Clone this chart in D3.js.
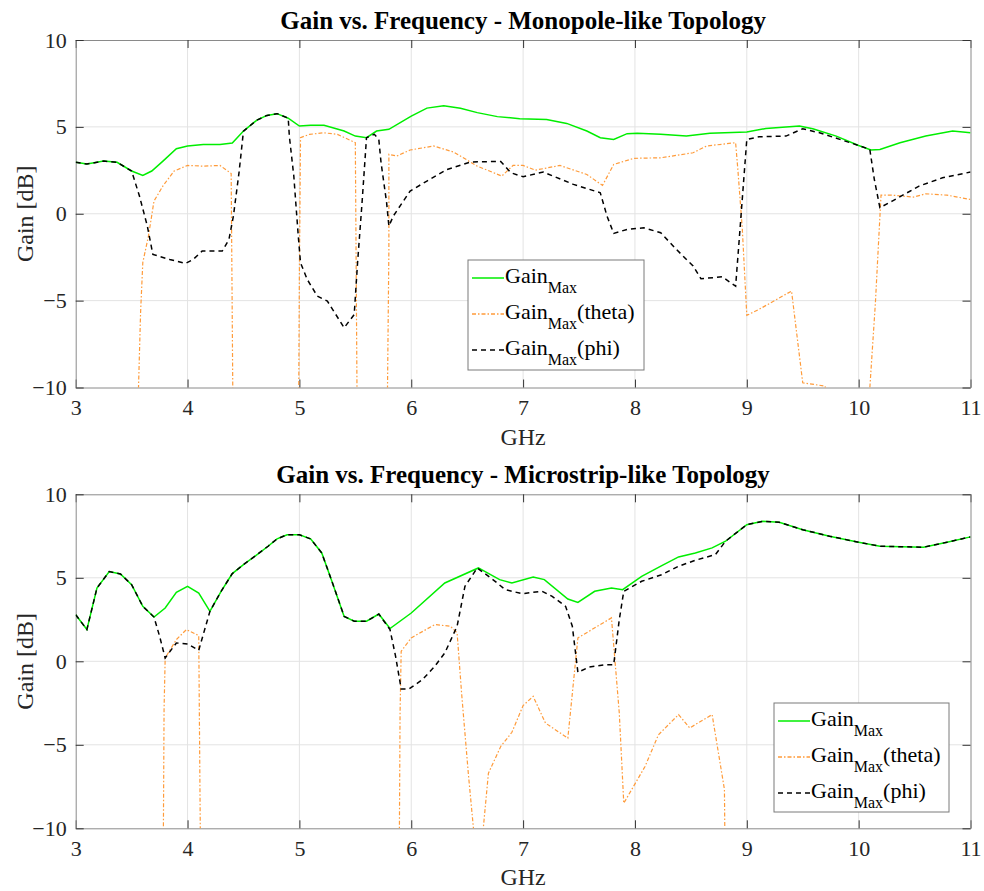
<!DOCTYPE html>
<html>
<head>
<meta charset="utf-8">
<script src="https://cdn.jsdelivr.net/npm/d3@7"></script>
<style>
  html, body { margin: 0; padding: 0; background: #fff; }
  svg { display: block; }
  text { font-family: "Liberation Serif", "Times New Roman", Times, "DejaVu Serif", serif; }
</style>
</head>
<body>
<svg id="chart" width="984" height="891"></svg>
<script>
// ---------- Data (frequency GHz, gain dB) ----------
const xTicks = [3, 4, 5, 6, 7, 8, 9, 10, 11];
const yTicks = [-10, -5, 0, 5, 10];

const topTitle = "Gain vs. Frequency - Monopole-like Topology";
const bottomTitle = "Gain vs. Frequency - Microstrip-like Topology";

// Top: Monopole-like
const topGainMax = [
  [3.0,2.97],[3.1,2.86],[3.25,3.03],[3.37,2.96],[3.5,2.46],[3.6,2.2],[3.68,2.46],[3.78,3.03],
  [3.9,3.74],[4.0,3.9],[4.14,3.99],[4.29,3.99],[4.4,4.07],[4.5,4.76],[4.62,5.39],[4.71,5.66],
  [4.8,5.76],[4.9,5.5],[5.0,5.05],[5.1,5.1],[5.22,5.09],[5.4,4.76],[5.5,4.47],[5.6,4.38],
  [5.69,4.76],[5.8,4.86],[6.0,5.62],[6.14,6.08],[6.29,6.22],[6.44,6.07],[6.59,5.82],[6.77,5.59],
  [6.97,5.47],[7.21,5.43],[7.39,5.2],[7.57,4.76],[7.69,4.38],[7.81,4.28],[7.93,4.61],[8.02,4.64],
  [8.23,4.57],[8.46,4.47],[8.67,4.63],[9.0,4.7],[9.17,4.91],[9.47,5.05],[9.59,4.89],[9.8,4.47],
  [10.0,3.93],[10.11,3.67],[10.19,3.7],[10.37,4.09],[10.6,4.47],[10.84,4.76],[11.0,4.66]
];
const topGainTheta = [
  [3.54,-15],[3.58,-5.7],[3.6,-2.8],[3.65,-1.3],[3.7,0.73],[3.78,1.6],[3.88,2.46],[4.0,2.78],
  [4.14,2.74],[4.29,2.78],[4.39,2.32],[4.41,-15],[4.99,-15],[5.0,-3.4],[5.01,4.38],[5.09,4.57],
  [5.22,4.66],[5.34,4.57],[5.5,4.09],[5.52,-15],[5.78,-15],[5.8,-2.05],[5.8,3.42],[5.87,3.32],
  [5.99,3.67],[6.2,3.9],[6.38,3.55],[6.59,2.74],[6.81,2.17],[6.91,2.78],[7.0,2.78],[7.11,2.51],
  [7.33,2.78],[7.57,2.26],[7.71,1.63],[7.81,2.84],[7.99,3.19],[8.23,3.22],[8.52,3.51],[8.64,3.9],
  [8.9,4.09],[8.92,2.55],[8.96,-0.9],[9.0,-5.85],[9.11,-5.5],[9.4,-4.45],[9.5,-9.73],[9.7,-9.92],
  [9.75,-12],[10.08,-12],[10.15,-5.1],[10.2,1.07],[10.3,1.07],[10.49,0.96],[10.6,1.15],[10.79,1.07],
  [11.0,0.82]
];
const topGainPhi = [
  [3.0,2.97],[3.1,2.86],[3.25,3.03],[3.37,2.96],[3.5,2.46],[3.57,1.02],[3.64,-0.7],[3.69,-2.34],
  [3.84,-2.63],[3.98,-2.86],[4.05,-2.63],[4.13,-2.15],[4.31,-2.15],[4.37,-1.48],[4.41,-0.13],
  [4.46,2.36],[4.5,4.76],[4.62,5.39],[4.71,5.66],[4.8,5.76],[4.9,5.5],[4.91,4.47],[4.95,2.17],
  [4.99,-1.29],[5.01,-2.82],[5.07,-3.78],[5.16,-4.74],[5.25,-5.03],[5.4,-6.56],[5.49,-5.8],
  [5.52,-2.82],[5.56,0.63],[5.6,4.38],[5.67,4.57],[5.71,4.28],[5.73,2.94],[5.78,0.63],[5.8,-0.71],
  [5.84,-0.13],[5.99,1.31],[6.14,1.88],[6.32,2.55],[6.53,2.98],[6.8,3.01],[6.89,2.36],[7.0,2.13],
  [7.18,2.4],[7.45,1.69],[7.69,1.21],[7.75,-0.13],[7.81,-1.13],[7.93,-0.9],[8.08,-0.81],[8.23,-1.09],
  [8.37,-2.05],[8.52,-3.01],[8.59,-3.74],[8.78,-3.63],[8.9,-4.17],[8.93,-1.67],[9.0,4.28],[9.11,4.43],
  [9.35,4.47],[9.5,4.89],[9.65,4.66],[10.0,3.93],[10.1,3.7],[10.14,1.98],[10.19,0.35],[10.3,0.73],
  [10.54,1.59],[10.75,2.07],[11.0,2.4]
];

// Bottom: Microstrip-like
const botGainMax = [
  [3.0,2.79],[3.1,1.9],[3.19,4.39],[3.3,5.37],[3.4,5.23],[3.5,4.59],[3.6,3.29],[3.7,2.65],
  [3.8,3.19],[3.9,4.13],[4.0,4.49],[4.1,4.09],[4.2,2.99],[4.3,4.19],[4.4,5.25],[4.5,5.79],
  [4.61,6.33],[4.72,6.89],[4.8,7.33],[4.89,7.58],[5.0,7.58],[5.1,7.33],[5.2,6.49],[5.28,4.99],
  [5.4,2.69],[5.49,2.4],[5.6,2.4],[5.71,2.83],[5.81,1.96],[6.0,2.89],[6.3,4.69],[6.6,5.59],
  [6.79,4.89],[6.9,4.69],[7.09,5.05],[7.19,4.89],[7.4,3.73],[7.49,3.53],[7.64,4.19],[7.79,4.39],
  [7.89,4.29],[8.06,5.09],[8.24,5.73],[8.39,6.25],[8.54,6.49],[8.69,6.79],[8.81,7.19],[9.0,8.18],
  [9.14,8.38],[9.29,8.32],[9.5,7.88],[9.74,7.49],[10.0,7.13],[10.19,6.89],[10.58,6.83],[10.79,7.13],
  [11.0,7.45]
];
const botGainTheta = [
  [3.78,-15],[3.79,-2.9],[3.8,0.2],[3.9,1.3],[3.99,1.9],[4.1,1.54],[4.11,-6.9],[4.12,-15],
  [5.89,-15],[5.9,-3.1],[5.91,0.6],[6.0,1.4],[6.21,2.2],[6.35,2.1],[6.41,1.7],[6.45,-1.9],
  [6.51,-6.7],[6.57,-11],[6.63,-11],[6.69,-6.7],[6.8,-5.1],[6.9,-4.25],[7.0,-2.65],[7.09,-2.1],
  [7.2,-3.7],[7.4,-4.6],[7.49,1.4],[7.59,1.8],[7.79,2.6],[7.86,-3.1],[7.9,-8.5],[8.09,-6.3],
  [8.21,-4.4],[8.39,-3.19],[8.49,-3.99],[8.69,-3.19],[8.8,-7.67],[8.81,-15]
];
const botGainPhi = [
  [3.0,2.79],[3.1,1.9],[3.19,4.39],[3.3,5.37],[3.4,5.23],[3.5,4.59],[3.6,3.29],[3.7,2.65],
  [3.75,1.5],[3.8,0.2],[3.9,1.1],[4.0,1.04],[4.1,0.66],[4.2,2.99],[4.3,4.19],[4.4,5.25],[4.5,5.79],
  [4.61,6.33],[4.72,6.89],[4.8,7.33],[4.89,7.58],[5.0,7.58],[5.1,7.33],[5.2,6.49],[5.28,4.99],
  [5.4,2.69],[5.49,2.4],[5.6,2.4],[5.71,2.83],[5.81,1.9],[5.86,0.3],[5.91,-1.66],[5.98,-1.66],
  [6.1,-1.1],[6.21,-0.3],[6.3,0.5],[6.41,2.1],[6.48,4.49],[6.59,5.59],[6.75,4.79],[6.84,4.29],
  [6.99,4.05],[7.17,4.19],[7.26,3.89],[7.38,3.29],[7.44,2.1],[7.49,-0.66],[7.59,-0.34],[7.74,-0.2],
  [7.81,-0.2],[7.86,2.5],[7.9,4.19],[8.06,4.79],[8.24,5.19],[8.39,5.69],[8.54,6.05],[8.72,6.39],
  [8.81,7.19],[9.0,8.18],[9.14,8.38],[9.29,8.32],[9.5,7.88],[9.74,7.49],[10.0,7.13],[10.19,6.89],
  [10.58,6.83],[10.79,7.13],[11.0,7.45]
];

const seriesNames = ["Max", "Max", "Max"];
const seriesSuffix = ["", "(theta)", "(phi)"];
const seriesColors = ["#00ee00", "#ff9b3a", "#000000"];
const seriesDash = [null, "4,2,1.5,2", "5,4"];

// ---------- Drawing ----------
const svg = d3.select("#chart");
const left = 75.7, right = 970.5;
const FONT = '"Liberation Serif", "Times New Roman", Times, serif';

const panels = [
  { title: topTitle, top: 40, bottom: 387.5, data: [topGainMax, topGainTheta, topGainPhi],
    legend: { x: 468, y: 260, w: 176, h: 110 }, id: "a" },
  { title: bottomTitle, top: 494.3, bottom: 828.3, data: [botGainMax, botGainTheta, botGainPhi],
    legend: { x: 774, y: 703, w: 175, h: 109 }, id: "b" }
];

const x = d3.scaleLinear().domain([3, 11]).range([left, right]);

panels.forEach(p => {
  const y = d3.scaleLinear().domain([-10, 10]).range([p.bottom, p.top]);
  const g = svg.append("g");

  svg.append("defs").append("clipPath").attr("id", "clip" + p.id)
    .append("rect").attr("x", left).attr("y", p.top)
    .attr("width", right - left).attr("height", p.bottom - p.top);

  // grid
  g.append("g").selectAll("line").data(xTicks.slice(1, -1)).join("line")
    .attr("x1", d => x(d)).attr("x2", d => x(d))
    .attr("y1", p.top).attr("y2", p.bottom)
    .attr("stroke", "#e3e3e3").attr("stroke-width", 1);
  g.append("g").selectAll("line").data(yTicks.slice(1, -1)).join("line")
    .attr("y1", d => y(d)).attr("y2", d => y(d))
    .attr("x1", left).attr("x2", right)
    .attr("stroke", "#e3e3e3").attr("stroke-width", 1);

  // axes
  const xAxisB = d3.axisBottom(x).tickValues(xTicks).tickSizeInner(-8).tickSizeOuter(0).tickPadding(12);
  const xAxisT = d3.axisTop(x).tickValues(xTicks).tickSizeInner(-8).tickSizeOuter(0).tickFormat("");
  const yAxisL = d3.axisLeft(y).tickValues(yTicks).tickSizeInner(-8).tickSizeOuter(0).tickPadding(9);
  const yAxisR = d3.axisRight(y).tickValues(yTicks).tickSizeInner(-8).tickSizeOuter(0).tickFormat("");

  const styleAxis = sel => {
    sel.attr("font-family", FONT);
    sel.select(".domain").attr("stroke", "#8a8a8a").attr("stroke-width", 1);
    sel.selectAll(".tick line").attr("stroke", "#333");
    sel.selectAll(".tick text").attr("fill", "#262626")
      .style("font-family", FONT).style("font-size", "22px");
  };
  g.append("g").attr("transform", `translate(0,${p.bottom})`).call(xAxisB).call(styleAxis);
  g.append("g").attr("transform", `translate(0,${p.top})`).call(xAxisT).call(styleAxis);
  g.append("g").attr("transform", `translate(${left},0)`).call(yAxisL).call(styleAxis);
  g.append("g").attr("transform", `translate(${right},0)`).call(yAxisR).call(styleAxis);

  // lines
  const line = d3.line().x(d => x(d[0])).y(d => y(d[1]));
  const lg = g.append("g").attr("clip-path", `url(#clip${p.id})`);
  [1, 0, 2].forEach(i => {
    lg.append("path").datum(p.data[i])
      .attr("d", line).attr("fill", "none")
      .attr("stroke", seriesColors[i])
      .attr("stroke-width", i === 1 ? 1.2 : 1.5)
      .attr("stroke-dasharray", seriesDash[i]);
  });

  // titles
  g.append("text").attr("x", (left + right) / 2).attr("y", p.top - 11)
    .attr("text-anchor", "middle").attr("font-weight", "bold")
    .style("font-family", FONT).style("font-size", "25px").attr("fill", "#000").text(p.title);
  g.append("text").attr("x", (left + right) / 2).attr("y", p.bottom + 57)
    .attr("text-anchor", "middle").style("font-family", FONT).style("font-size", "24px")
    .attr("fill", "#262626").text("GHz");
  g.append("text").attr("transform", `translate(33,${(p.top + p.bottom) / 2}) rotate(-90)`)
    .attr("text-anchor", "middle").style("font-family", FONT).style("font-size", "24px")
    .attr("fill", "#262626").text("Gain [dB]");

  // legend
  const L = p.legend;
  const leg = g.append("g");
  leg.append("rect").attr("x", L.x).attr("y", L.y).attr("width", L.w).attr("height", L.h)
    .attr("fill", "#fff").attr("stroke", "#7a7a7a").attr("stroke-width", 1);
  [0, 1, 2].forEach(i => {
    const ly = L.y + 18 + i * 36;
    leg.append("line").attr("x1", L.x + 4).attr("x2", L.x + 36).attr("y1", ly).attr("y2", ly)
      .attr("stroke", seriesColors[i]).attr("stroke-width", 1.5)
      .attr("stroke-dasharray", seriesDash[i]);
    const t = leg.append("text").attr("x", L.x + 37).attr("y", ly + 5)
      .style("font-family", FONT).style("font-size", "22px").attr("fill", "#000");
    t.append("tspan").text("Gain");
    t.append("tspan").attr("dy", 10).style("font-size", "16px").text(seriesNames[i]);
    if (seriesSuffix[i]) t.append("tspan").attr("dy", -10).text(seriesSuffix[i]);
  });
});
</script>
</body>
</html>
